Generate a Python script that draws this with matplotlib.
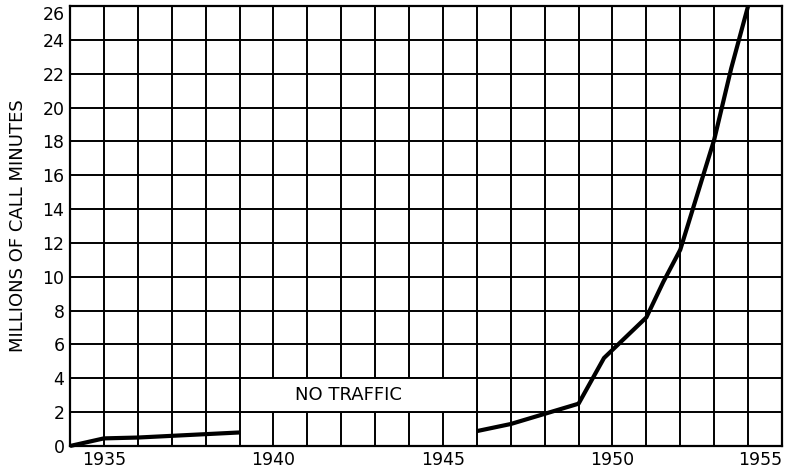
import matplotlib
matplotlib.use("Agg")
import matplotlib.pyplot as plt
from matplotlib.patches import Rectangle
import numpy as np

# prewar and postwar traffic, millions of call minutes
years_prewar = [1934, 1935, 1936, 1937, 1938, 1939]
minutes_prewar = [0.0, 0.45, 0.5, 0.6, 0.7, 0.8]

years_postwar = [1946, 1947, 1948, 1949, 1949.75, 1951, 1951.5, 1952, 1953, 1953.5, 1954]
minutes_postwar = [0.88, 1.3, 1.9, 2.5, 5.2, 7.6, 9.7, 11.6, 18.1, 22.3, 26.0]

x_ticks = [1935, 1940, 1945, 1950, 1955]
y_ticks = list(range(0, 27, 2))

plt.rcParams['font.family'] = ['DejaVu Sans']

fig = plt.figure(figsize=(7.86, 4.72), dpi=100)
ax = fig.add_axes([70 / 786, 1 - 446 / 472, 712 / 786, 440 / 472])

ax.set_xlim(1934, 1955)
ax.set_ylim(0, 26)

ax.set_xticks(x_ticks)
ax.set_xticks(np.arange(1934, 1956), minor=True)
ax.set_yticks(y_ticks)
ax.set_xticklabels([str(t) for t in x_ticks], fontsize=12.5)
ax.set_yticklabels([str(t) for t in y_ticks], fontsize=12.5)
ax.tick_params(which='both', length=0)
ax.tick_params(axis='x', pad=3.5)
ax.tick_params(axis='y', pad=4)

# last x label sits flush with the right frame, top y label under the frame
ax.get_xticklabels()[-1].set_horizontalalignment('right')
ax.get_yticklabels()[-1].set_verticalalignment('top')

ax.grid(True, which='both', color='black', linewidth=1.4, zorder=1)
ax.set_axisbelow(True)
for sp in ax.spines.values():
    sp.set_linewidth(1.6)
    sp.set_color('black')

# blank panel over the war years
ax.add_patch(Rectangle((1939, 2), 7, 2, facecolor='white', edgecolor='black',
                       linewidth=1.4, zorder=2))
ax.text(1942.2, 3.0, 'NO TRAFFIC', ha='center', va='center', fontsize=13, zorder=3)

ax.plot(years_prewar, minutes_prewar, color='black', linewidth=3, zorder=4,
        solid_capstyle='butt', clip_on=False)
ax.plot(years_postwar, minutes_postwar, color='black', linewidth=3, zorder=4,
        solid_capstyle='butt')

ax.set_ylabel('MILLIONS OF CALL MINUTES', fontsize=13, labelpad=11)

fig.savefig('out.png', dpi=100)
